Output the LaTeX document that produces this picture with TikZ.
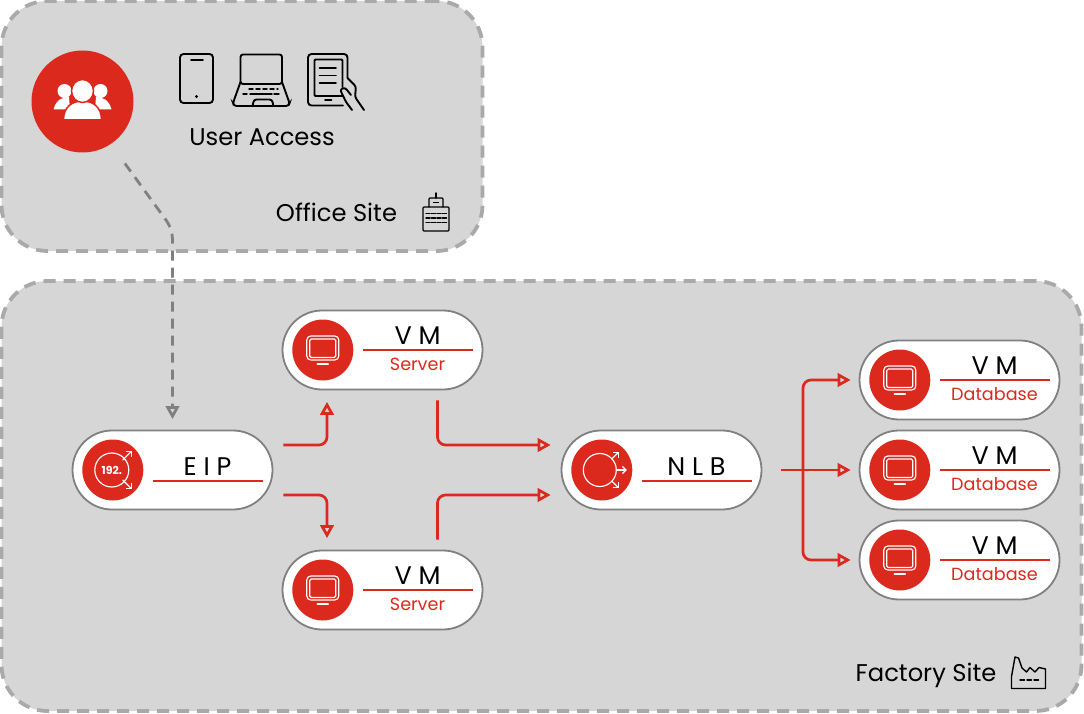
\documentclass[tikz,border=0pt]{standalone}
\usepackage{fontspec}
\setmainfont{Poppins}
\usepackage{tikz}
\usetikzlibrary{arrows.meta,positioning,calc,shapes.misc}
\usepackage{xcolor}
\definecolor{accent}{HTML}{DC291E}
\definecolor{sitebg}{HTML}{D6D6D6}
\definecolor{sitedash}{HTML}{A9A9A9}
\definecolor{edge}{HTML}{808080}
% pill with a rule through its middle and two lines of text
\newcommand{\vmpill}[3]{
  \node[pill] (#1) at (#2) {};
  \node[badge, right=10.5pt of #1.west] (#1b) {};
  \pic at (#1b) {screen};
  \draw[pillrule] ([xshift=-120pt]#1.east) -- ([xshift=-10pt]#1.east);
  \node[pilltitle] (#1t) at ([xshift=35pt,yshift=5.5pt]#1.center) {V M};
  \node[pillsub] (#1s) at ([xshift=35pt,yshift=-20pt]#1.center) {#3};
}
% pill with one title above a lower rule
\newcommand{\netpill}[3]{
  \node[pill] (#1) at (#2) {};
  \node[badge, right=10.5pt of #1.west] (#1b) {};
  \draw[pillrule] ([xshift=-120pt,yshift=-11pt]#1.east) -- ([xshift=-10pt,yshift=-11pt]#1.east);
  \node[pilltitle] (#1t) at ([xshift=35pt,yshift=-5.5pt]#1.center) {#3};
}

\begin{document}
\begin{tikzpicture}[
  x=1pt, y=-1pt,
  site/.style={draw=sitedash, fill=sitebg, line width=3.8pt, dash pattern=on 12pt off 8pt,
               rounded corners=46pt, inner sep=0pt},
  sitelabel/.style={anchor=base, font=\fontsize{24.2}{27}\selectfont, text=black},
  pill/.style={rounded rectangle, draw=edge, fill=white, line width=1.8pt,
               minimum width=200pt, minimum height=79pt, inner sep=0pt},
  badge/.style={circle, fill=accent, minimum size=61pt, inner sep=0pt},
  pillrule/.style={color=accent, line width=1.2pt},
  pilltitle/.style={anchor=base, font=\fontsize{25.5}{28}\selectfont, text=black},
  pillsub/.style={anchor=base, font=\fontsize{17.6}{20}\selectfont, text=accent},
  link/.style={draw=accent, line width=2.7pt, rounded corners=8pt,
               -{Triangle[open,length=13pt,width=13.5pt]}},
  remote/.style={draw=edge, line width=2.8pt, rounded corners=10pt, dash pattern=on 10pt off 7pt,
                 -{Triangle[open,length=13pt,width=13.5pt]}},
  iconline/.style={draw=black, line width=1.9pt, rounded corners=2.5pt, line cap=round},
  iconthin/.style={draw=black, line width=1.4pt, line cap=round},
  whiteline/.style={draw=white, line width=1.15pt, line cap=round},
  minitip/.style={-{Straight Barb[length=3.5pt,width=7pt]}},
  screen/.pic={
    \draw[whiteline, rounded corners=4pt] (-16,-14) rectangle (16,10);
    \draw[whiteline, rounded corners=1.5pt] (-13,-11) rectangle (13,7.5);
    \draw[whiteline, line width=1.5pt] (-5.5,14) -- (5.5,14);
  }
]
  \useasboundingbox (0,0) rectangle (1084,714);

  \node[site, minimum width=481pt, minimum height=250pt] (office) at (242,126) {};
  \node[site, minimum width=1080pt, minimum height=430pt] (factory) at (541.5,496) {};

  \node[badge, minimum size=102pt] (user) at (82.5,101.5) {};
  % people on the red disc
  \fill[white] (64.5,91) circle (7);
  \fill[white] (100.5,91) circle (7);
  \fill[white] (53.5,109.5) .. controls (56,100) and (62,97) .. (69,97) -- (70,109.5) -- cycle;
  \fill[white] (111.5,109.5) .. controls (109,100) and (103,97) .. (96,97) -- (95,109.5) -- cycle;
  \draw[accent, line width=1.5pt, fill=white] (63.5,120) .. controls (63.5,107) and (72,101) .. (82.5,101)
    .. controls (93,101) and (101.5,107) .. (101.5,120) -- cycle;
  \draw[accent, line width=1.5pt, fill=white] (82.5,91) ellipse (11 and 11.5);
  \fill[accent] (55,120.8) rectangle (110,123);

  % devices
  \draw[iconline, rounded corners=3.5pt] (180,54) rectangle (213,103);
  \draw[iconline] (191,60) -- (203,60);
  \fill[black] (196.5,96.5) circle (1.7);

  \draw[iconline] (240.5,84) -- (240.5,54.5) -- (282,54.5) -- (282,84) -- cycle;
  \draw[iconline] (240.5,82) -- (233,103) -- (234,106) -- (288.5,106) -- (289.5,103) -- (282,82);
  \draw[iconline] (252.5,106) -- (254,99.5) -- (272,99.5) -- (273.5,106);
  \draw[iconthin, dash pattern=on 4pt off 3pt] (249,89) -- (278,89);
  \draw[iconthin, dash pattern=on 4pt off 3pt] (243,94) -- (248,94);
  \draw[iconthin] (250,94) -- (272,94);
  \draw[iconthin] (274,94) -- (279,94);

  \draw[iconline, rounded corners=3.5pt] (347.5,78) -- (347.5,54) -- (308,54) -- (308,105.5) -- (343,105.5);
  \draw[iconline, rounded corners=1pt] (342.5,87) -- (342.5,59.5) -- (314.5,59.5) -- (314.5,96) -- (343,96);
  \draw[iconline] (319.5,68) -- (336,68);
  \draw[iconline] (319.5,75.5) -- (336,75.5);
  \draw[iconline] (319.5,83) -- (336,83);
  \draw[iconline] (325,100) -- (331.5,100);
  \draw[iconline] (347.5,78) -- (356,86.5) -- (355,97) -- (364,110);
  \draw[iconline] (351,95) -- (345,87.5) -- (340,89.5) -- (346,102) -- (352,110);

  \node[sitelabel] (access) at (262,145.5) {User Access};
  \node[sitelabel] (officelab) at (336.5,222) {Office Site};
  \node[sitelabel] (factorylab) at (926,681.5) {Factory Site};

  % building
  \draw[iconthin, rounded corners=1pt] (423,207) rectangle (449,231);
  \draw[iconthin, rounded corners=1pt] (429,207) -- (429,198) -- (443,198) -- (443,207);
  \draw[iconthin] (436,193) -- (436,198);
  \draw[iconthin] (433.5,202.5) -- (438.5,202.5);
  \draw[iconthin, dash pattern=on 4pt off 1.5pt] (426,213.5) -- (447,213.5);
  \draw[iconthin, dash pattern=on 4pt off 1.5pt] (426,218) -- (447,218);
  \draw[iconthin, dash pattern=on 4pt off 1.5pt] (426,222.5) -- (447,222.5);

  % factory
  \draw[iconthin, line join=round] (1011.5,676.5) -- (1015,657) -- (1018.5,658) -- (1022,668) -- (1026.5,672)
    -- (1030,667.5) -- (1035,672) -- (1039,667.5) -- (1045.5,669) -- (1045.5,688.5) -- (1011.5,688.5) -- cycle;
  \draw[iconthin, dash pattern=on 4.5pt off 2.5pt] (1020,680) -- (1041,680);

  % pills
  \netpill{eip}{172.5,470}{E I P}
  \vmpill{srvtop}{382.5,350}{Server}
  \vmpill{srvbot}{382.5,590}{Server}
  \netpill{nlb}{661.5,470}{N L B}
  \vmpill{dba}{959.5,380}{Database}
  \vmpill{dbb}{959.5,470}{Database}
  \vmpill{dbc}{959.5,560}{Database}

  % address icon
  \draw[whiteline] ([xshift=-1pt]eipb.center) circle (17);
  \node[font=\fontsize{11}{12}\selectfont\bfseries, text=white, inner sep=0pt] (ipnum) at ([xshift=-1pt]eipb.center) {192.};
  \draw[whiteline, minitip] ([xshift=10pt,yshift=10pt]eipb.center) -- ([xshift=19pt,yshift=19pt]eipb.center);
  \draw[whiteline, minitip] ([xshift=10pt,yshift=-10pt]eipb.center) -- ([xshift=19pt,yshift=-19pt]eipb.center);

  % balancer icon
  \draw[whiteline] ([xshift=-2pt]nlbb.center) circle (16.5);
  \draw[whiteline, minitip] ([xshift=10pt,yshift=11pt]nlbb.center) -- ([xshift=17pt,yshift=18pt]nlbb.center);
  \draw[whiteline, minitip] ([xshift=14.5pt]nlbb.center) -- ([xshift=25pt]nlbb.center);
  \draw[whiteline, minitip] ([xshift=10pt,yshift=-11pt]nlbb.center) -- ([xshift=17pt,yshift=-18pt]nlbb.center);

  % connectors
  \coordinate (turn) at (172.5,229);
  \draw[remote] ([xshift=13pt,yshift=-20pt]user.-55) -- (turn) -- ([yshift=10.5pt]eip.north);

  \draw[link] ([xshift=10pt,yshift=25pt]eip.east) -| ([xshift=-55.5pt,yshift=-11.5pt]srvtop.south);
  \draw[link] ([xshift=10pt,yshift=-25pt]eip.east) -| ([xshift=-55.5pt,yshift=11.5pt]srvbot.north);
  \draw[link] ([xshift=55pt,yshift=-10pt]srvtop.south) |- ([xshift=-10pt,yshift=25pt]nlb.west);
  \draw[link] ([xshift=55pt,yshift=10pt]srvbot.north) |- ([xshift=-10pt,yshift=-25pt]nlb.west);

  \coordinate (fork) at (803,470);
  \draw[link] ([xshift=19pt]nlb.east) -- ([xshift=-8pt]dbb.west);
  \draw[link] (fork) |- ([xshift=-8pt]dba.west);
  \draw[link] (fork) |- ([xshift=-8pt]dbc.west);
\end{tikzpicture}
\end{document}
